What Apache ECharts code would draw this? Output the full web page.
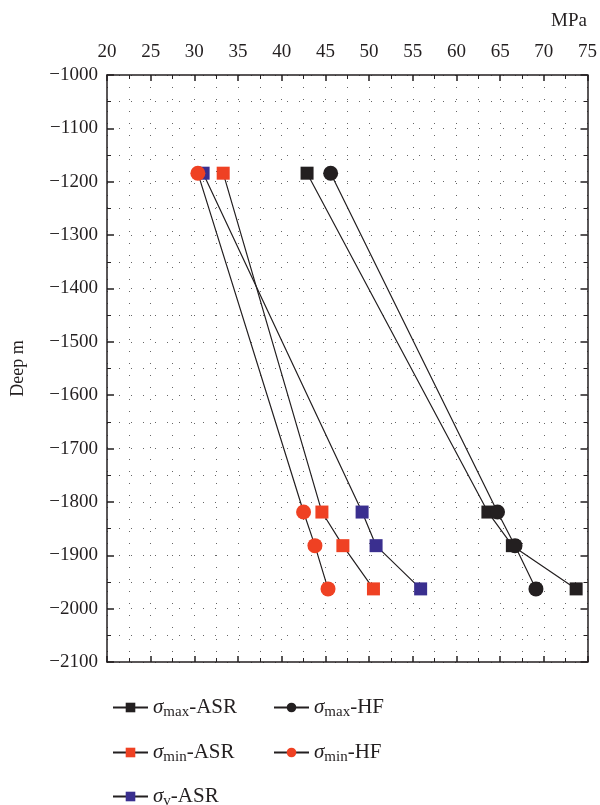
<!DOCTYPE html>
<html>
<head>
<meta charset="utf-8">
<script src="https://cdn.jsdelivr.net/npm/echarts@6/dist/echarts.min.js"></script>
<style>html,body{margin:0;padding:0;background:#fff}#c{width:600px;height:805px}</style>
</head>
<body>
<div id="c"></div>
<script>
const depth = [-1184, -1819, -1882, -1963];
const maxASR = [42.9, 63.6, 66.4, 73.7];
const maxHF = [45.6, 64.7, 66.7, 69.1];
const minASR = [33.3, 44.6, 47.0, 50.5];
const minHF = [30.4, 42.5, 43.8, 45.3];
const vASR = [31.0, 49.2, 50.8, 55.9];
const seriesNames = ['σmax-ASR', 'σmax-HF', 'σmin-ASR', 'σmin-HF', 'σv-ASR'];

const FONT = '"Liberation Serif", "DejaVu Serif", serif';
const INK = '#231f20';
const RED = '#ef4123';
const BLUE = '#3a2f8f';

function pairs(xs) { return xs.map((x, i) => [x, depth[i]]); }

const chart = echarts.init(document.getElementById('c'));

const dotted = { color: '#666', width: 1, type: [1, 11] };
const dottedH = { color: '#666', width: 1, type: [1, 11] };

function mk(name, xs, color, symbol, size, z) {
  return {
    name, type: 'line', data: pairs(xs), symbol, symbolSize: size,
    itemStyle: { color, opacity: 1 }, lineStyle: { color: INK, width: 1.2 },
    z, animation: false
  };
}

const richT = {
  s: { fontFamily: FONT, fontStyle: 'italic', fontSize: 21, color: INK },
  sub: { fontFamily: FONT, fontSize: 15, color: INK, padding: [10, 0, 0, 0] },
  n: { fontFamily: FONT, fontSize: 21, color: INK }
};
function fmt(name) {
  const m = name.match(/^σ(\w+)-(\w+)$/);
  return '{s|σ}{sub|' + m[1] + '}{n|-' + m[2] + '}';
}
const legPos = [[107, 692], [268, 692], [107, 737], [268, 737], [107, 781]];
const legends = seriesNames.map((n, i) => ({
  data: [n], left: legPos[i][0], top: legPos[i][1], itemWidth: 35, itemHeight: 12,
  itemGap: 12, formatter: fmt, textStyle: { rich: richT, fontFamily: FONT, fontSize: 21, color: INK },
  selectedMode: false
}));

chart.setOption({
  backgroundColor: '#fff',
  animation: false,
  title: { text: 'MPa', left: 546, top: 7, textStyle: { fontFamily: FONT, fontWeight: 'normal', fontSize: 19, color: INK } },
  grid: { left: 107, right: 11, top: 75, bottom: 143 },
  legend: legends,
  xAxis: [{
    type: 'value', position: 'top', min: 20, max: 75, interval: 5,
    axisLine: { show: true, onZero: false, lineStyle: { color: INK, width: 1.5 } },
    axisTick: { show: true, inside: true, length: 6, lineStyle: { color: INK, width: 1.5 } },
    minorTick: { show: true, splitNumber: 2, length: 4, lineStyle: { color: INK } },
    axisLabel: { fontFamily: FONT, fontSize: 19, color: INK, margin: 13 },
    splitLine: { show: true, lineStyle: dotted },
    minorSplitLine: { show: true, lineStyle: dotted }
  }, {
    type: 'value', position: 'bottom', min: 20, max: 75, interval: 5,
    axisLine: { show: true, onZero: false, lineStyle: { color: INK, width: 1.5 } },
    axisTick: { show: true, inside: true, length: 6, lineStyle: { color: INK, width: 1.5 } },
    minorTick: { show: true, splitNumber: 2, length: 4, lineStyle: { color: INK } },
    axisLabel: { show: false }, splitLine: { show: false }
  }],
  yAxis: [{
    type: 'value', position: 'left', min: -2100, max: -1000, interval: 100,
    name: 'Deep m', nameLocation: 'middle', nameRotate: 90, nameGap: 80,
    nameTextStyle: { fontFamily: FONT, fontSize: 18, color: INK },
    axisLine: { show: true, onZero: false, lineStyle: { color: INK, width: 1.5 } },
    axisTick: { show: true, inside: true, length: 7, lineStyle: { color: INK, width: 1.5 } },
    minorTick: { show: true, splitNumber: 2, length: 4, lineStyle: { color: INK } },
    axisLabel: { fontFamily: FONT, fontSize: 19, color: INK, margin: 9, formatter: v => String(v).replace('-', '−') },
    splitLine: { show: true, lineStyle: dottedH },
    minorSplitLine: { show: true, lineStyle: dottedH }
  }, {
    type: 'value', position: 'right', min: -2100, max: -1000, interval: 100,
    axisLine: { show: true, onZero: false, lineStyle: { color: INK, width: 1.5 } },
    axisTick: { show: true, inside: true, length: 7, lineStyle: { color: INK, width: 1.5 } },
    minorTick: { show: true, splitNumber: 2, length: 4, lineStyle: { color: INK } },
    axisLabel: { show: false }, splitLine: { show: false }
  }],
  series: [
    mk(seriesNames[0], maxASR, INK, 'rect', 13, 3),
    mk(seriesNames[1], maxHF, INK, 'circle', 15, 4),
    mk(seriesNames[2], minASR, RED, 'rect', 13, 3),
    mk(seriesNames[3], minHF, RED, 'circle', 15, 4),
    mk(seriesNames[4], vASR, BLUE, 'rect', 13, 2)
  ]
});
</script>
</body>
</html>
